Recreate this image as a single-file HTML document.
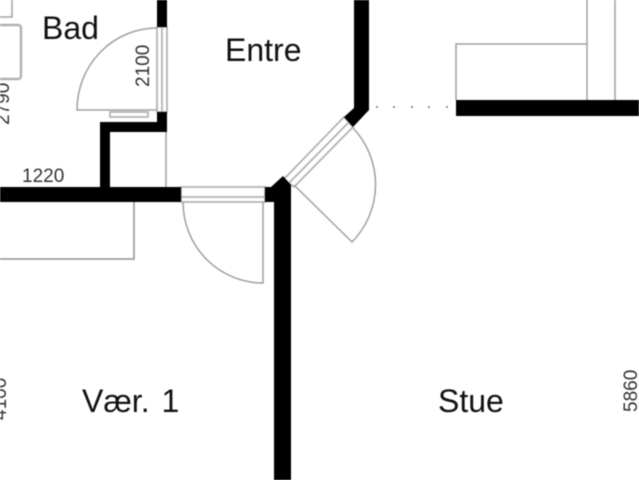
<!DOCTYPE html>
<html><head><meta charset="utf-8">
<style>
html,body{margin:0;padding:0;background:#fff;width:639px;height:480px;overflow:hidden}
svg{display:block;filter:blur(.6px)}
text{font-family:"Liberation Sans",sans-serif}
.l{font-size:32px;fill:#111}
.d{font-size:19px;fill:#333}
.g{fill:none;stroke:#a0a0a0;stroke-width:1.5}
.w{fill:none;stroke:#b0b0b0;stroke-width:1.7}
</style></head><body>
<svg width="639" height="480" viewBox="0 0 639 480" xmlns="http://www.w3.org/2000/svg">
<!-- furniture -->
<path class="g" d="M0 17H12V0"/>
<rect class="w" x="-6" y="25" width="27" height="54" rx="3" style="stroke-width:2.4"/>
<path class="g" d="M0 259H134V202" style="stroke:#909090"/>
<path class="g" d="M166 131V187"/>
<path class="g" d="M456 100V44H587M587 0V100M615 0V100"/>
<!-- door swings -->
<path class="g" d="M157 28A80 82 0 0 0 77 110H157"/>
<rect class="w" x="110" y="112" width="38" height="5"/>
<path class="g" d="M183 202A80 81 0 0 0 263 283V202"/>
<path class="g" d="M353 128A82 82 0 0 1 352 242L294 185"/>
<!-- door frames -->
<rect class="w" x="157" y="27" width="10" height="85"/>
<path class="w" d="M162 27V112"/>
<rect class="w" x="181" y="187" width="84" height="15"/>
<path class="w" d="M181 197H265"/>
<path class="w" d="M284 179L344 117L353 127L294 187Z"/>
<path class="w" d="M289 183L349 122"/>
<!-- walls -->
<g fill="#000">
<rect x="157" y="0" width="10" height="27"/>
<path d="M157 112H167V132H110V187H100V122H157Z"/>
<rect x="0" y="187" width="181" height="15"/>
<path d="M265 187H271L283 176L291 185V480H274V202H265Z"/>
<path d="M354 0H369V110L353 127L344 117L354 108Z"/>
<rect x="456" y="100" width="183" height="16"/>
</g>
<!-- dots -->
<g fill="#777"><circle cx="377" cy="107" r="1"/><circle cx="394" cy="107" r="1"/><circle cx="412" cy="107" r="1"/><circle cx="429" cy="107" r="1"/><circle cx="447" cy="107" r="1"/></g>
<!-- labels -->
<text class="l" x="42" y="39">Bad</text>
<text class="l" x="225" y="61">Entre</text>
<text class="l" x="82" y="412" word-spacing="3">Vær. 1</text>
<text class="l" x="438" y="412">Stue</text>
<text class="d" x="22" y="182">1220</text>
<text class="d" transform="translate(149,87) rotate(-90)">2100</text>
<text class="d" transform="translate(9,125) rotate(-90)">2790</text>
<text class="d" transform="translate(6,420) rotate(-90)">4100</text>
<text class="d" transform="translate(637,412) rotate(-90)">5860</text>
</svg>
</body></html>
